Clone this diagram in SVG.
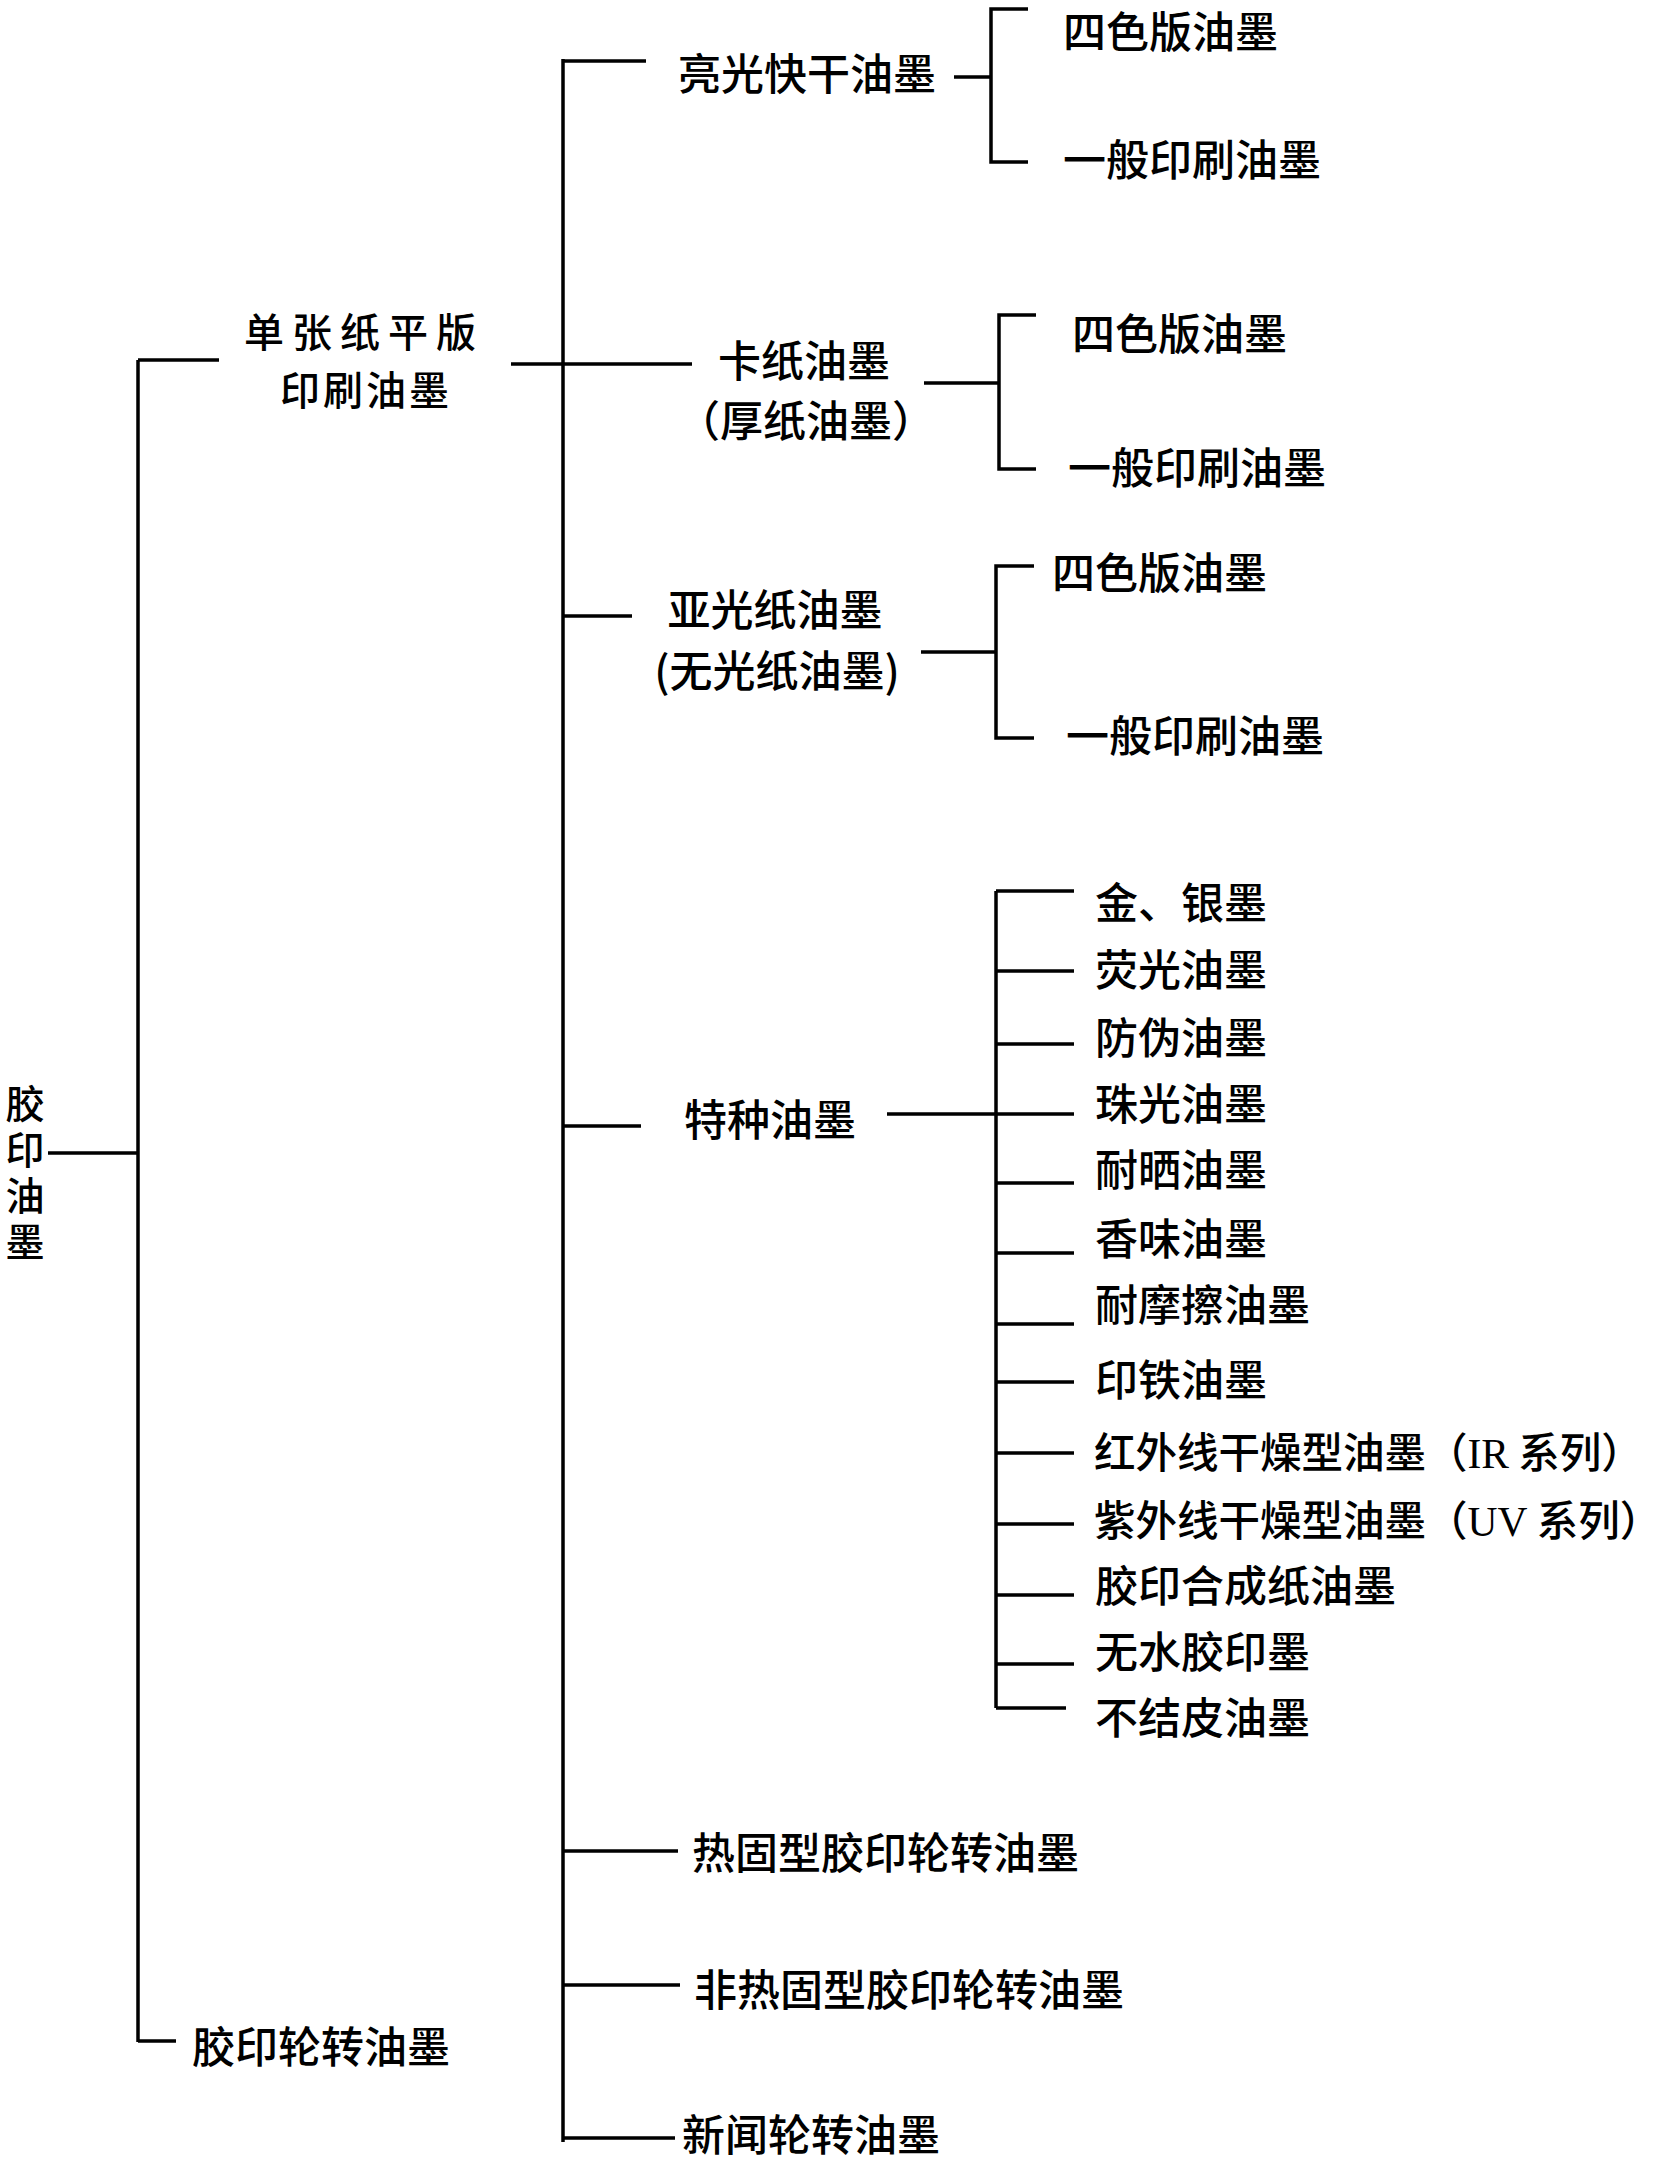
<svg xmlns="http://www.w3.org/2000/svg" width="1675" height="2159" viewBox="0 0 1675 2159">
<style>
text{font-family:"Noto Sans CJK SC","Noto Sans CJK TC",sans-serif;font-size:43px;font-weight:500;fill:#000}
.m{text-anchor:middle}
.v{font-size:39px;writing-mode:vertical-rl;letter-spacing:7px}
.s{font-size:41.5px}
.f{font-size:40px}
.lat{font-family:"Liberation Serif",serif}
#connectors path{fill:none;stroke:#000;stroke-width:3.5}
</style>
<rect width="1675" height="2159" fill="#fff"/>
<g id="connectors">
<path d="M48,1153 H138 M138,360 V2042 M138,360 H219 M138,2041 H176"/>
<path d="M511,364 H692 M563,59 V2142"/>
<path d="M563,61 H646 M563,616 H632 M563,1126 H641 M563,1851 H678 M563,1985 H680 M563,2138 H675"/>
<path d="M954,77 H991 M1028,9 H991 V162 H1028"/>
<path d="M924,383 H999 M1036,315 H999 V469 H1036"/>
<path d="M921,652 H996 M1034,566 H996 V738 H1034"/>
<path d="M887,1114 H1074 M996,891 V1708 M996,891 H1074 M996,971 H1074 M996,1044 H1074 M996,1183 H1074 M996,1253 H1074 M996,1324 H1074 M996,1382 H1074 M996,1453 H1074 M996,1524 H1074 M996,1595 H1074 M996,1664 H1074 M996,1708 H1066"/>
</g>
<g id="root"><text class="v" x="25" y="1084">胶印油墨</text></g>
<g id="sheetfed"><text class="f" x="244" y="347" letter-spacing="8">单张纸平版</text><text class="f" x="280" y="405" letter-spacing="3">印刷油墨</text></g>
<g id="webOffset"><text x="192" y="2063">胶印轮转油墨</text></g>
<g id="glossQuick"><text x="678" y="90">亮光快干油墨</text></g>
<g id="cardboard"><text class="m" x="804" y="377">卡纸油墨</text><text class="m" x="806" y="437">（厚纸油墨）</text></g>
<g id="matte"><text class="m" x="775" y="626">亚光纸油墨</text><text class="m" x="777" y="687">(无光纸油墨)</text></g>
<g id="special"><text x="684" y="1136">特种油墨</text></g>
<g id="heatset"><text x="692" y="1869">热固型胶印轮转油墨</text></g>
<g id="nonHeatset"><text x="694" y="2006">非热固型胶印轮转油墨</text></g>
<g id="newspaper"><text x="682" y="2151">新闻轮转油墨</text></g>
<g id="gq-4c"><text x="1063" y="48">四色版油墨</text></g>
<g id="gq-gen"><text x="1063" y="176">一般印刷油墨</text></g>
<g id="cb-4c"><text x="1072" y="350">四色版油墨</text></g>
<g id="cb-gen"><text x="1068" y="484">一般印刷油墨</text></g>
<g id="mt-4c"><text x="1052" y="589">四色版油墨</text></g>
<g id="mt-gen"><text x="1066" y="752">一般印刷油墨</text></g>
<g id="sp-1"><text x="1095" y="919">金、银墨</text></g>
<g id="sp-2"><text x="1095" y="986">荧光油墨</text></g>
<g id="sp-3"><text x="1095" y="1054">防伪油墨</text></g>
<g id="sp-4"><text x="1095" y="1120">珠光油墨</text></g>
<g id="sp-5"><text x="1095" y="1186">耐晒油墨</text></g>
<g id="sp-6"><text x="1095" y="1255">香味油墨</text></g>
<g id="sp-7"><text x="1095" y="1321">耐摩擦油墨</text></g>
<g id="sp-8"><text x="1095" y="1396">印铁油墨</text></g>
<g id="sp-9"><text class="s" x="1094" y="1468">红外线干燥型油墨（<tspan class="lat">IR</tspan> 系列）</text></g>
<g id="sp-10"><text class="s" x="1094" y="1536">紫外线干燥型油墨（<tspan class="lat">UV</tspan> 系列）</text></g>
<g id="sp-11"><text x="1095" y="1602">胶印合成纸油墨</text></g>
<g id="sp-12"><text x="1095" y="1668">无水胶印墨</text></g>
<g id="sp-13"><text x="1095" y="1734">不结皮油墨</text></g>
</svg>
